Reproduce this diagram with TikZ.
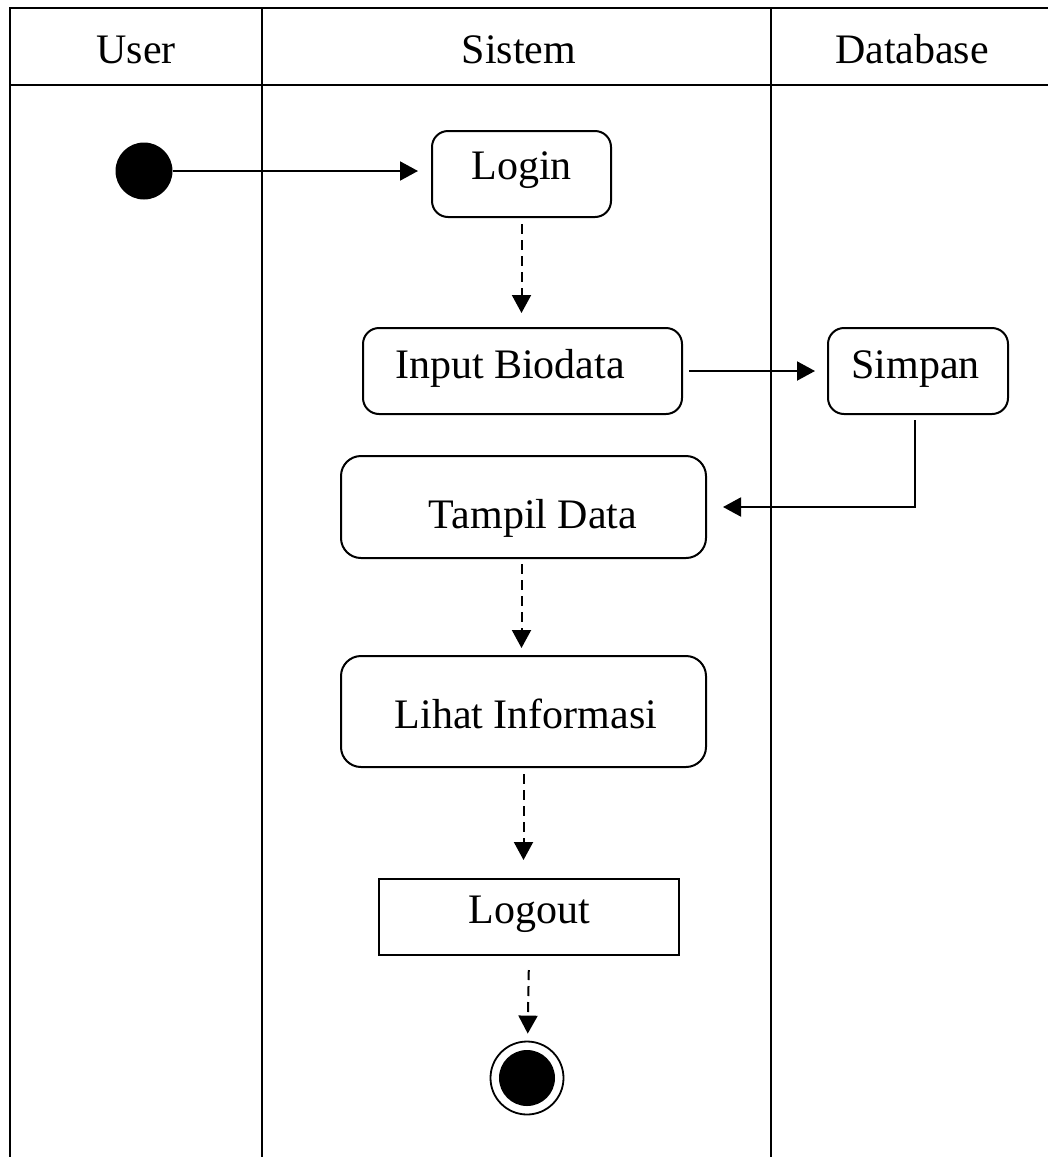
\documentclass[tikz,border=0pt]{standalone}
\usepackage{fontspec}
\setmainfont{Liberation Serif}
\usetikzlibrary{arrows.meta}
\begin{document}
\begin{tikzpicture}[x=1pt,y=-1pt,
  every node/.style={font=\fontsize{42}{48}\selectfont},
  lane/.style={line width=2.2pt},
  head/.style={anchor=base, inner sep=0pt},
  act/.style={draw, line width=2pt, rounded corners=16pt, inner sep=0pt, anchor=north west},
  plainact/.style={draw, line width=2pt, inner sep=0pt, anchor=north west},
  flow/.style={line width=2pt, -{Triangle[length=18pt,width=19pt]}},
  dflow/.style={flow, dash pattern=on 10pt off 6pt}
]
\useasboundingbox (0,0) rectangle (1048,1157);

% swimlanes
\draw[lane] (10,1157) -- (10,8) -- (1048,8);
\draw[lane] (10,85) -- (1048,85);
\draw[lane] (262,8) -- (262,1157);
\draw[lane] (771,8) -- (771,1157);

\node[head] (huser) at (136,63) {User};
\node[head] (hsistem) at (519,63) {Sistem};
\node[head] (hdb) at (912,63) {Database};

% nodes
\node[circle, fill, minimum size=57pt, inner sep=0pt] (start) at (144,171) {};
\node[act, minimum width=179pt, text height=48pt, text depth=38pt] (login) at (431,130) {Login};
\node[act, minimum width=319pt, text height=50pt, text depth=36pt] (input) at (362,327) {Input Biodata\hspace*{25pt}};
\node[act, minimum width=180pt, text height=50pt, text depth=36pt] (simpan) at (827,327) {Simpan\hspace*{5pt}};
\node[act, rounded corners=20pt, minimum width=365pt, text height=72pt, text depth=30pt] (tampil) at (340,455) {\hspace*{19pt}Tampil Data};
\node[act, rounded corners=20pt, minimum width=365pt, text height=72pt, text depth=39pt] (lihat) at (340,655) {\hspace*{5pt}Lihat Informasi};
\node[plainact, minimum width=300pt, text height=44pt, text depth=32pt] (logout) at (378,878) {Logout};
\node[circle, draw, line width=1.8pt, minimum size=73pt, inner sep=0pt] (end) at (527,1078) {};
\fill (end.center) circle (28pt);

% connectors
\draw[flow, shorten >=13pt] (start) -- (start -| login.west);
\draw[dflow, shorten <=6pt, shorten >=14pt] (login.south) -- (login.south |- input.north);
\draw[flow, shorten <=6pt, shorten >=12pt] (input.east) -- (input.east -| simpan.west);
\draw[flow, shorten <=5pt, shorten >=16pt] ([xshift=-3pt]simpan.south) |- (tampil.east);
\draw[dflow, shorten <=5pt, shorten >=7pt] ([xshift=-2pt]tampil.south) -- ([xshift=-2pt]tampil.south |- lihat.north);
\draw[dflow, shorten <=6pt, shorten >=18pt] (lihat.south) -- (lihat.south |- logout.north);
\draw[dflow, shorten <=14pt, shorten >=7pt] (logout.south) -- (end);
\end{tikzpicture}
\end{document}
